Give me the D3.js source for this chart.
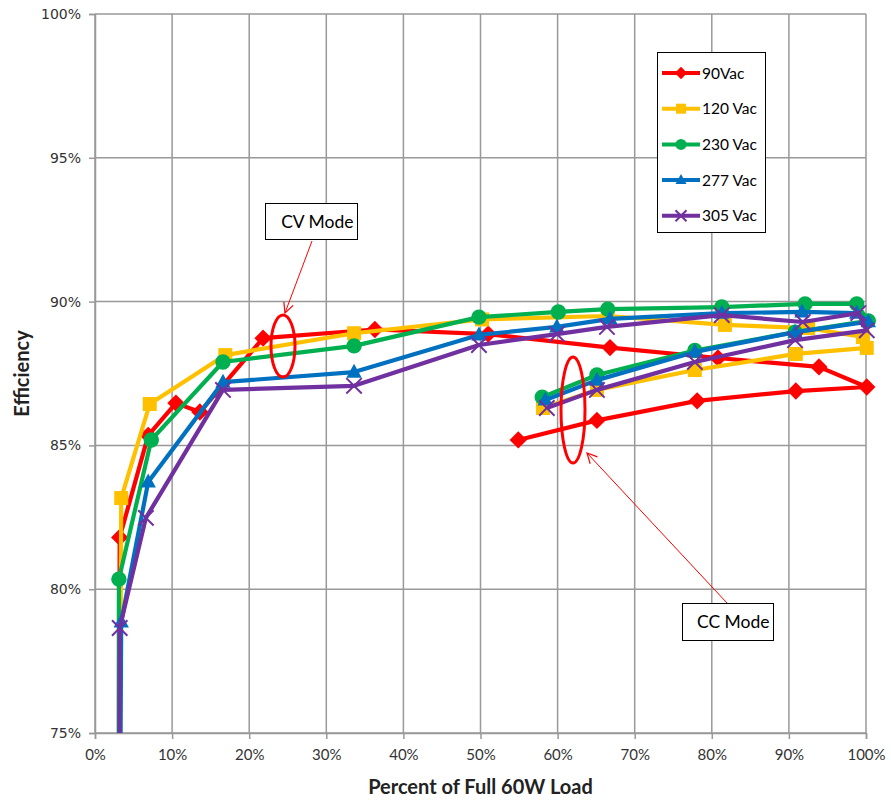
<!DOCTYPE html>
<html>
<head>
<meta charset="utf-8">
<script src="https://cdn.jsdelivr.net/npm/d3@7"></script>
<style>
  html, body { margin: 0; padding: 0; background: #fff; }
  svg { display: block; }
</style>
</head>
<body>
<svg id="chart" width="891" height="801"></svg>
<script>
// Load (% of full 60 W) and efficiency (%) per input voltage.
// Each series runs through CV mode up to full load, then back down through CC mode.
const seriesNames = ["90Vac", "120 Vac", "230 Vac", "277 Vac", "305 Vac"];
const seriesColors = ["#FF0000", "#FFC000", "#00B050", "#0070C0", "#7030A0"];
const seriesSymbols = ["diamond", "square", "circle", "triangle", "x"];

const load90  = [3.0, 3.2, 6.9, 10.5, 13.6, 21.8, 36.3, 51.0, 66.8, 80.8, 93.9, 100.1, 90.9, 78.1, 65.1, 54.9];
const eff90   = [60, 81.8, 85.35, 86.47, 86.16, 88.73, 89.03, 88.87, 88.4, 88.04, 87.73, 87.03, 86.89, 86.55, 85.87, 85.19];

const load120 = [3.0, 3.4, 7.1, 16.9, 33.6, 50.2, 66.5, 81.7, 92.5, 99.6, 100.1, 90.9, 77.8, 65.1, 58.1];
const eff120  = [60, 83.17, 86.44, 88.14, 88.9, 89.38, 89.5, 89.19, 89.08, 88.77, 88.39, 88.18, 87.62, 86.93, 86.3];

const load230 = [3.0, 3.1, 7.3, 16.6, 33.6, 49.8, 60.1, 66.5, 81.3, 92.1, 98.8, 100.3, 90.8, 77.8, 65.1, 58.0];
const eff230  = [60, 80.35, 85.19, 87.9, 88.46, 89.46, 89.64, 89.74, 89.81, 89.92, 89.92, 89.33, 88.94, 88.3, 87.45, 86.68];

const load277 = [3.0, 3.4, 6.9, 16.6, 33.6, 49.8, 59.9, 66.8, 81.3, 91.7, 98.8, 100.3, 90.8, 77.8, 65.1, 58.4];
const eff277  = [60, 78.86, 83.73, 87.2, 87.55, 88.84, 89.12, 89.4, 89.6, 89.64, 89.6, 89.3, 88.94, 88.25, 87.27, 86.58];

const load305 = [3.0, 3.2, 6.6, 16.6, 33.6, 49.8, 59.9, 66.4, 81.3, 91.8, 99.0, 100.1, 90.8, 77.8, 65.1, 58.6];
const eff305  = [60, 78.65, 82.48, 86.93, 87.07, 88.49, 88.87, 89.12, 89.53, 89.29, 89.6, 89.0, 88.66, 87.9, 86.93, 86.3];

const xTicks = [0, 10, 20, 30, 40, 50, 60, 70, 80, 90, 100];
const yTicks = [75, 80, 85, 90, 95, 100];

const loads = [load90, load120, load230, load277, load305];
const effs = [eff90, eff120, eff230, eff277, eff305];
const series = seriesNames.map((name, i) => ({
  name, color: seriesColors[i], symbol: seriesSymbols[i],
  points: loads[i].map((x, j) => ({ x, y: effs[i][j] }))
}));

const svg = d3.select("#chart");
const plotL = 95, plotR = 866, plotT = 14, plotB = 733;

const x = d3.scaleLinear().domain([0, 100]).range([plotL, plotR]);
const y = d3.scaleLinear().domain([75, 100]).range([plotB, plotT]);

const gridColor = "#999999";
const labelFont = "Lato, 'Open Sans', sans-serif";

// Gridlines
const grid = svg.append("g");
grid.selectAll("line.v").data(xTicks).join("line").attr("class", "v")
  .attr("x1", d => x(d)).attr("x2", d => x(d))
  .attr("y1", plotT).attr("y2", plotB)
  .attr("stroke", gridColor).attr("stroke-width", 1.5);
grid.selectAll("line.h").data(yTicks).join("line").attr("class", "h")
  .attr("x1", plotL).attr("x2", plotR)
  .attr("y1", d => y(d)).attr("y2", d => y(d))
  .attr("stroke", gridColor).attr("stroke-width", 1.5);

// Axes
const yAxis = d3.axisLeft(y).tickValues(yTicks).tickSize(6).tickPadding(8)
  .tickFormat(d => d + "%");
const gy = svg.append("g").attr("transform", `translate(${plotL},0)`).call(yAxis);
gy.select(".domain").attr("stroke", gridColor).attr("stroke-width", 1.5);
gy.selectAll(".tick line").attr("stroke", gridColor).attr("stroke-width", 1.5);
gy.selectAll(".tick text").attr("font-family", "'DejaVu Sans', Verdana, sans-serif")
  .attr("font-size", 14).attr("fill", "#333");

const xAxis = d3.axisBottom(x).tickValues(xTicks).tickSize(6).tickPadding(10)
  .tickFormat(d => d + "%");
const gx = svg.append("g").attr("transform", `translate(0,${plotB})`).call(xAxis);
gx.select(".domain").attr("stroke", gridColor).attr("stroke-width", 1.5);
gx.selectAll(".tick line").attr("stroke", gridColor).attr("stroke-width", 1.5);
gx.selectAll(".tick text").attr("font-family", labelFont)
  .attr("font-size", 15).attr("fill", "#333");

// Axis titles
svg.append("text").attr("x", (plotL + plotR) / 2).attr("y", 794)
  .attr("text-anchor", "middle").attr("font-family", labelFont)
  .attr("font-weight", "bold").attr("font-size", 20).attr("fill", "#222")
  .text("Percent of Full 60W Load");
svg.append("text").attr("transform", `translate(29,${(plotT + plotB) / 2}) rotate(-90)`)
  .attr("text-anchor", "middle").attr("font-family", labelFont)
  .attr("font-weight", "bold").attr("font-size", 20).attr("fill", "#222")
  .text("Efficiency");

// Clip lines at the bottom of the plot area
const defs = svg.append("defs");
defs.append("clipPath").attr("id", "plotClip")
  .append("rect").attr("x", 0).attr("y", 0).attr("width", 891).attr("height", plotB);

function symbolPath(kind, s) {
  switch (kind) {
    case "diamond": return `M0,${-s * 0.62}L${s * 0.62},0L0,${s * 0.62}L${-s * 0.62},0Z`;
    case "square": return `M${-s / 2},${-s / 2}h${s}v${s}h${-s}Z`;
    case "circle": return d3.symbol(d3.symbolCircle, Math.PI * (s * 0.55) ** 2)();
    case "triangle": return `M0,${-s * 0.6}L${s * 0.55},${s * 0.4}L${-s * 0.55},${s * 0.4}Z`;
    default: return null;
  }
}

function drawMarker(g, kind, color, size) {
  if (kind === "x") {
    const h = size * 0.55;
    g.append("path").attr("d", `M${-h},${-h}L${h},${h}M${-h},${h}L${h},${-h}`)
      .attr("stroke", color).attr("stroke-width", 2).attr("fill", "none");
  } else {
    g.append("path").attr("d", symbolPath(kind, size)).attr("fill", color);
  }
}

const line = d3.line().x(d => x(d.x)).y(d => y(d.y));
const plot = svg.append("g");
series.forEach(s => {
  const g = plot.append("g");
  g.append("path").datum(s.points).attr("d", line)
    .attr("clip-path", "url(#plotClip)")
    .attr("fill", "none").attr("stroke", s.color).attr("stroke-width", 4.2)
    .attr("stroke-linejoin", "round");
  g.selectAll("g.m").data(s.points.filter(p => p.y >= 75)).join("g").attr("class", "m")
    .attr("transform", p => `translate(${x(p.x)},${y(p.y)})`)
    .each(function () { drawMarker(d3.select(this), s.symbol, s.color, 14); });
});

// Legend
const lg = svg.append("g");
lg.append("rect").attr("x", 657.5).attr("y", 52.5).attr("width", 108).attr("height", 180)
  .attr("fill", "#fff").attr("stroke", "#000").attr("stroke-width", 1);
series.forEach((s, i) => {
  const cy = 73 + i * 35.7;
  lg.append("line").attr("x1", 662).attr("x2", 700).attr("y1", cy).attr("y2", cy)
    .attr("stroke", s.color).attr("stroke-width", 4);
  drawMarker(lg.append("g").attr("transform", `translate(681,${cy})`), s.symbol, s.color, 10);
  lg.append("text").attr("x", 702).attr("y", cy + 5.5)
    .attr("font-family", labelFont).attr("font-size", 15.5).attr("fill", "#000")
    .text(s.name);
});

// Annotations: mode callouts, ellipses and arrows
defs.append("marker").attr("id", "openArrow").attr("viewBox", "0 0 12 12")
  .attr("refX", 11).attr("refY", 6).attr("markerWidth", 12).attr("markerHeight", 12)
  .attr("markerUnits", "userSpaceOnUse").attr("orient", "auto")
  .append("path").attr("d", "M1,1L11,6L1,11").attr("fill", "none")
  .attr("stroke", "#FF0000").attr("stroke-width", 1.2);

const ann = svg.append("g");
function callout(bx, by, bw, bh, label, ex, ey, erx, ery, ax1, ay1, ax2, ay2) {
  ann.append("ellipse").attr("cx", ex).attr("cy", ey).attr("rx", erx).attr("ry", ery)
    .attr("fill", "none").attr("stroke", "#FF0000").attr("stroke-width", 3);
  ann.append("line").attr("x1", ax1).attr("y1", ay1).attr("x2", ax2).attr("y2", ay2)
    .attr("stroke", "#FF0000").attr("stroke-width", 1).attr("marker-end", "url(#openArrow)");
  ann.append("rect").attr("x", bx).attr("y", by).attr("width", bw).attr("height", bh)
    .attr("fill", "#fff").attr("stroke", "#000").attr("stroke-width", 1);
  ann.append("text").attr("x", bx + bw - 4).attr("y", by + bh / 2 + 6)
    .attr("text-anchor", "end").attr("font-family", labelFont).attr("font-size", 17.5)
    .attr("fill", "#000").text(label);
}
callout(265.5, 203.5, 92, 36, "CV Mode", 283, 346, 12, 31, 312, 241, 285, 313);
callout(682.5, 603.5, 91, 37, "CC Mode", 573, 410, 12, 53, 727, 603, 587, 453);
</script>
</body>
</html>
